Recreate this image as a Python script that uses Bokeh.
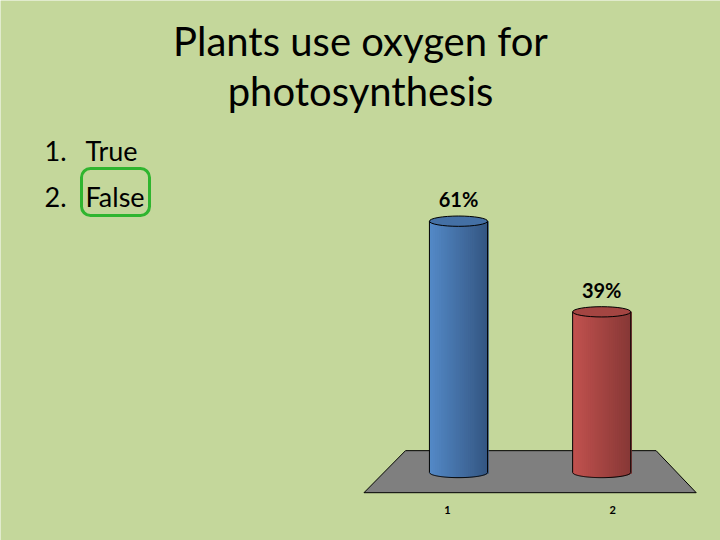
import numpy as np
from bokeh.plotting import figure
from bokeh.models import Label, BoxAnnotation, Range1d
from bokeh.core.properties import value
from bokeh.embed import file_html
from bokeh.resources import INLINE

# data
cats = [1, 2]
tick_labels = ["1", "2"]
values = [61, 39]
pct_labels = ["61%", "39%"]
title_lines = ["Plants use oxygen for", "photosynthesis"]
answers = ["True", "False"]

BG = "#c4d79b"
light = [(84, 138, 200), (194, 82, 79)]
dark = [(52, 86, 130), (135, 56, 54)]

# reference pixel -> data helpers
X0, DX = 458.0, 143.2
Y0, DY = 472.0, 4.12
def fx(X):
    return 1 + (X - X0) / DX
def fy(Y):
    return (Y0 - Y) / DY

W, H = 720, 540
p = figure(width=W, height=H, output_backend="svg", toolbar_location=None,
           x_range=Range1d(fx(0), fx(W)), y_range=Range1d(fy(H), fy(0)),
           min_border=0)
p.axis.visible = False
p.grid.visible = False
p.outline_line_color = None
p.background_fill_color = BG
p.border_fill_color = BG

# floor
fl_back, fl_front = 5.3, -4.9
p.patch([cats[0] - 0.37, cats[-1] + 0.38, cats[-1] + 0.66, cats[0] - 0.66],
        [fl_back, fl_back, fl_front, fl_front],
        fill_color="#7f7f7f", line_color="black", line_width=1)

# cylinders
half_w = 0.203
eh = 2.5  # ellipse height, data units
n = 30
for c, v, lc, dc in zip(cats, values, light, dark):
    edges = np.linspace(-1, 1, n + 1)
    mids = (edges[:-1] + edges[1:]) / 2
    t = (mids + 1) / 2
    cols = ["#%02x%02x%02x" % tuple(int(a + (b - a) * tt) for a, b in zip(lc, dc)) for tt in t]
    bot = -eh / 2 * np.sqrt(np.clip(1 - mids ** 2, 0, 1))
    p.quad(left=c + edges[:-1] * half_w, right=c + edges[1:] * half_w + 0.008,
           bottom=bot, top=[v] * n, fill_color=cols, line_color=None)
    # outline: sides and lower half of base
    u = np.linspace(-1, 1, 60)
    p.line(c + u * half_w, -eh / 2 * np.sqrt(1 - u ** 2), line_color="black", line_width=1)
    p.segment(x0=[c - half_w, c + half_w], y0=[0, 0], x1=[c - half_w, c + half_w], y1=[v, v],
              line_color="black", line_width=1)
    mid = "#%02x%02x%02x" % tuple(int((a + b) / 2) for a, b in zip(lc, dc))
    p.ellipse(x=c, y=v, width=2 * half_w, height=eh, fill_color=mid, line_color="black", line_width=1)

# value labels
p.text(x=cats, y=values, text=pct_labels, y_offset=-22, text_align="center",
       text_baseline="middle", text_font=value("Lato"), text_font_style="bold",
       text_font_size="20px", text_color="black")

# category labels
p.text(x=cats, y=[fy(509)] * len(cats), text=tick_labels, x_offset=[-11, 11],
       text_align="center", text_baseline="middle", text_font=value("Lato"),
       text_font_style="bold", text_font_size="11px", text_color="black")

# title
for line, mid_y in zip(title_lines, [40, 90]):
    p.add_layout(Label(x=fx(360), y=fy(mid_y), text=line, text_align="center",
                       text_baseline="middle", text_font="Lato",
                       text_font_size="40px", text_color="black"))

# answer list
for i, (ans, mid_y) in enumerate(zip(answers, [150, 196])):
    p.add_layout(Label(x=fx(44), y=fy(mid_y), text="%d." % (i + 1), text_align="left",
                       text_baseline="middle", text_font="Lato",
                       text_font_size="27px", text_color="black"))
    p.add_layout(Label(x=fx(85), y=fy(mid_y), text=ans, text_align="left",
                       text_baseline="middle", text_font="Lato",
                       text_font_size="27px", text_color="black"))

# correct-answer box
p.add_layout(BoxAnnotation(left=fx(81), right=fx(149), top=fy(168), bottom=fy(215),
                           fill_alpha=0, line_color="#2fb52f", line_alpha=1, line_width=3,
                           border_radius=9))

open("out.html", "w").write(file_html(p, INLINE))
